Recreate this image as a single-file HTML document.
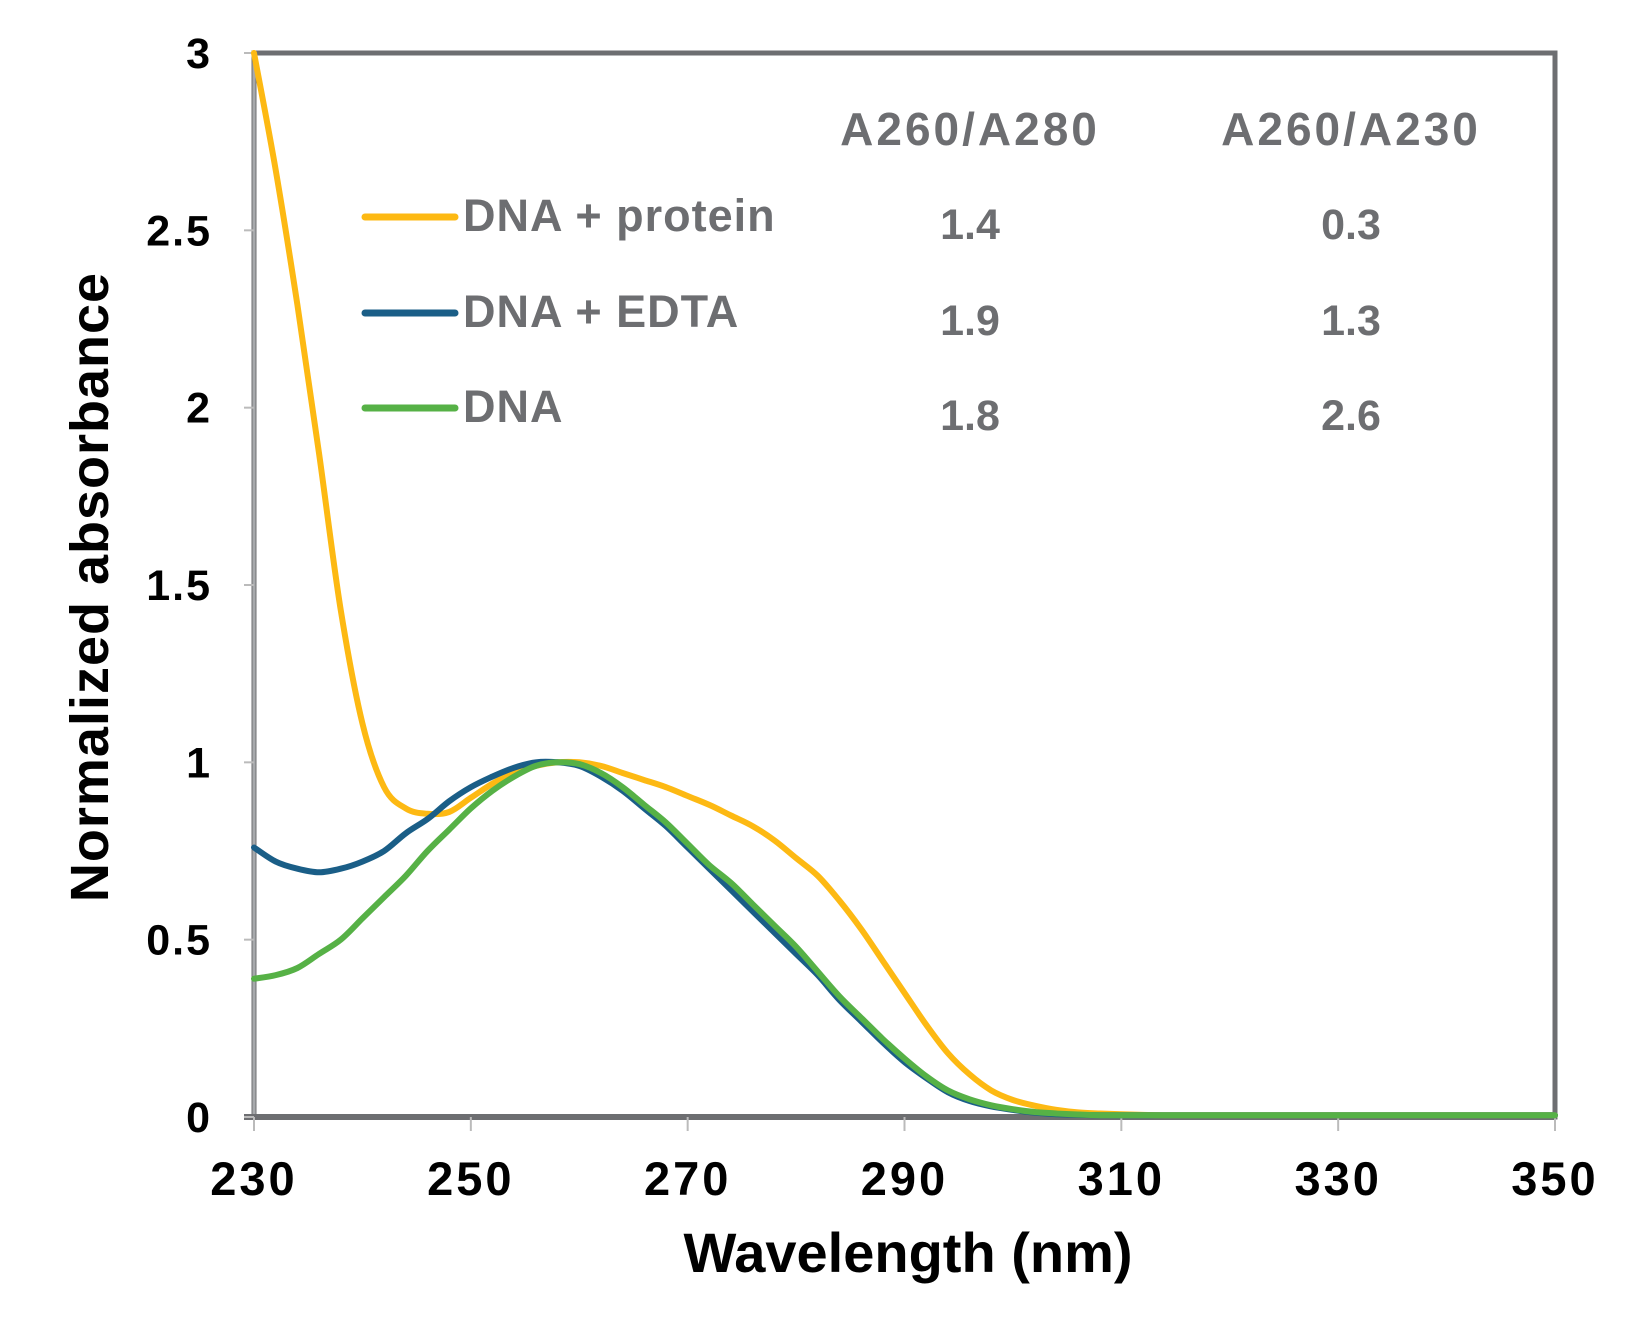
<!DOCTYPE html>
<html><head><meta charset="utf-8"><style>
html,body{margin:0;padding:0;background:#fff;}
svg{display:block;font-family:"Liberation Sans",sans-serif;}
</style></head><body>
<svg id="chart" width="1650" height="1342" viewBox="0 0 1650 1342">
<g id="axes"></g><g id="series"></g><g id="legend"></g>
</svg>
<script>
const wavelengths=[230,232,234,236,238,240,242,244,246,248,250,252,254,256,258,260,262,264,266,268,270,272,274,276,278,280,282,284,286,288,290,292,294,296,298,300,302,304,306,308,310,312,314,316,318,320,322,324,326,328,330,332,334,336,338,340,342,344,346,348,350];
const proteinValues=[3.0,2.67,2.29,1.87,1.43,1.11,0.93,0.87,0.855,0.86,0.9,0.94,0.97,0.99,1.0,1.0,0.99,0.97,0.95,0.93,0.905,0.88,0.85,0.82,0.78,0.73,0.68,0.61,0.53,0.44,0.35,0.26,0.18,0.12,0.075,0.048,0.032,0.02,0.013,0.01,0.008,0.006,0.005,0.005,0.005,0.005,0.005,0.005,0.005,0.005,0.005,0.005,0.005,0.005,0.005,0.005,0.005,0.005,0.005,0.005,0.005];
const edtaValues=[0.76,0.72,0.7,0.69,0.7,0.72,0.75,0.8,0.84,0.89,0.93,0.96,0.985,1.0,1.0,0.99,0.96,0.92,0.87,0.82,0.76,0.7,0.64,0.58,0.52,0.46,0.4,0.33,0.27,0.21,0.155,0.11,0.07,0.045,0.03,0.02,0.012,0.008,0.006,0.005,0.005,0.005,0.005,0.005,0.005,0.005,0.005,0.005,0.005,0.005,0.005,0.005,0.005,0.005,0.005,0.005,0.005,0.005,0.005,0.005,0.005];
const dnaValues=[0.39,0.4,0.42,0.46,0.5,0.56,0.62,0.68,0.75,0.81,0.87,0.92,0.96,0.99,1.0,0.995,0.97,0.93,0.88,0.83,0.77,0.71,0.66,0.6,0.54,0.48,0.41,0.34,0.28,0.22,0.165,0.115,0.075,0.05,0.033,0.022,0.014,0.01,0.007,0.005,0.005,0.005,0.005,0.005,0.005,0.005,0.005,0.005,0.005,0.005,0.005,0.005,0.005,0.005,0.005,0.005,0.005,0.005,0.005,0.005,0.005];
const xTicks=[230,250,270,290,310,330,350];
const yTicks=[0,0.5,1,1.5,2,2.5,3];
const yTickLabels=["0","0.5","1","1.5","2","2.5","3"];
const seriesNames=["DNA + protein","DNA + EDTA","DNA"];
const ratio280=["1.4","1.9","1.8"];
const ratio230=["0.3","1.3","2.6"];

const X0=254,X1=1555,Y0=1117,Y1=53;
const xs=v=>X0+(v-230)/(350-230)*(X1-X0);
const ys=v=>Y0-(v/3)*(Y0-Y1);
const NS="http://www.w3.org/2000/svg";
function mk(tag,attrs,parent,text){const e=document.createElementNS(NS,tag);for(const k in attrs)e.setAttribute(k,attrs[k]);if(text!==undefined)e.textContent=text;parent.appendChild(e);return e;}
const axes=document.getElementById('axes'),ser=document.getElementById('series'),leg=document.getElementById('legend');

let e=mk('rect',{x:X0,y:Y1,width:X1-X0,height:Y0-Y1,fill:'none',stroke:'#6d6e71','stroke-width':5},axes);


e=mk('line',{x1:X0,y1:Y1,x2:X0,y2:Y0,stroke:'#a7a9ac','stroke-width':3},axes);


e=mk('line',{x1:X0-10,y1:Y0,x2:X1,y2:Y0,stroke:'#6d6e71','stroke-width':6},axes);


xTicks.forEach(t=>{
 let l=mk('line',{x1:xs(t),y1:Y0,x2:xs(t),y2:Y0+14,stroke:'#bbb','stroke-width':2},axes);
 
 
 let tx=mk('text',{x:xs(t),y:Y0+78,'text-anchor':'middle','font-size':47,'font-weight':'bold','letter-spacing':3,fill:'#000'},axes,String(t));
 
 
});
yTicks.forEach((t,i)=>{
 let l=mk('line',{x1:X0-10,y1:ys(t),x2:X0,y2:ys(t),stroke:'#bbb','stroke-width':2},axes);
 
 
 let tx=mk('text',{x:212,y:ys(t)+15,'text-anchor':'end','font-size':43,'font-weight':'bold','letter-spacing':2,fill:'#000'},axes,yTickLabels[i]);
 
 
});
e=mk('text',{x:908,y:1272,'text-anchor':'middle','font-size':56,'font-weight':'bold',fill:'#000'},axes,'Wavelength (nm)');


e=mk('text',{x:0,y:0,'text-anchor':'middle','font-size':54,'font-weight':'bold','letter-spacing':1,fill:'#000',transform:'translate(108,587) rotate(-90)'},axes,'Normalized absorbance');



function smoothPath(pts){
 let d='M'+pts[0][0].toFixed(1)+' '+pts[0][1].toFixed(1);
 for(let i=0;i<pts.length-1;i++){
  const p0=pts[i-1]||pts[i],p1=pts[i],p2=pts[i+1],p3=pts[i+2]||p2;
  const c1=[p1[0]+(p2[0]-p0[0])/6,p1[1]+(p2[1]-p0[1])/6];
  const c2=[p2[0]-(p3[0]-p1[0])/6,p2[1]-(p3[1]-p1[1])/6];
  d+=' C'+c1[0].toFixed(1)+' '+c1[1].toFixed(1)+' '+c2[0].toFixed(1)+' '+c2[1].toFixed(1)+' '+p2[0].toFixed(1)+' '+p2[1].toFixed(1);
 }
 return d;
}
const colors=['#fdb913','#1a5e87','#56b146'];
const seriesData=[proteinValues,edtaValues,dnaValues];
seriesData.forEach((vals,si)=>{
 const pts=vals.map((v,i)=>[xs(wavelengths[i]),ys(v)]);
 let p=mk('path',{d:smoothPath(pts),fill:'none',stroke:colors[si],'stroke-width':6,'stroke-linejoin':'round','stroke-linecap':'round'},ser);
 
 
});

const rowY=[217,313,408];
let h=mk('text',{x:970,y:145,'text-anchor':'middle','font-size':46,'font-weight':'bold','letter-spacing':3,fill:'#6d6e71'},leg,'A260/A280');


h=mk('text',{x:1351,y:145,'text-anchor':'middle','font-size':46,'font-weight':'bold','letter-spacing':3,fill:'#6d6e71'},leg,'A260/A230');


seriesNames.forEach((n,i)=>{
 let l=mk('line',{x1:365,y1:rowY[i],x2:455,y2:rowY[i],stroke:colors[i],'stroke-width':7,'stroke-linecap':'round'},leg);
 
 
 let t=mk('text',{x:463,y:rowY[i]+14,'font-size':45,'font-weight':'bold','letter-spacing':1,fill:'#6d6e71'},leg,n);
 
 
 let a=mk('text',{x:970,y:rowY[i]+22,'text-anchor':'middle','font-size':43,'font-weight':'bold',fill:'#6d6e71'},leg,ratio280[i]);
 
 
 let b=mk('text',{x:1351,y:rowY[i]+22,'text-anchor':'middle','font-size':43,'font-weight':'bold',fill:'#6d6e71'},leg,ratio230[i]);
 
 
});
</script>
</body></html>
